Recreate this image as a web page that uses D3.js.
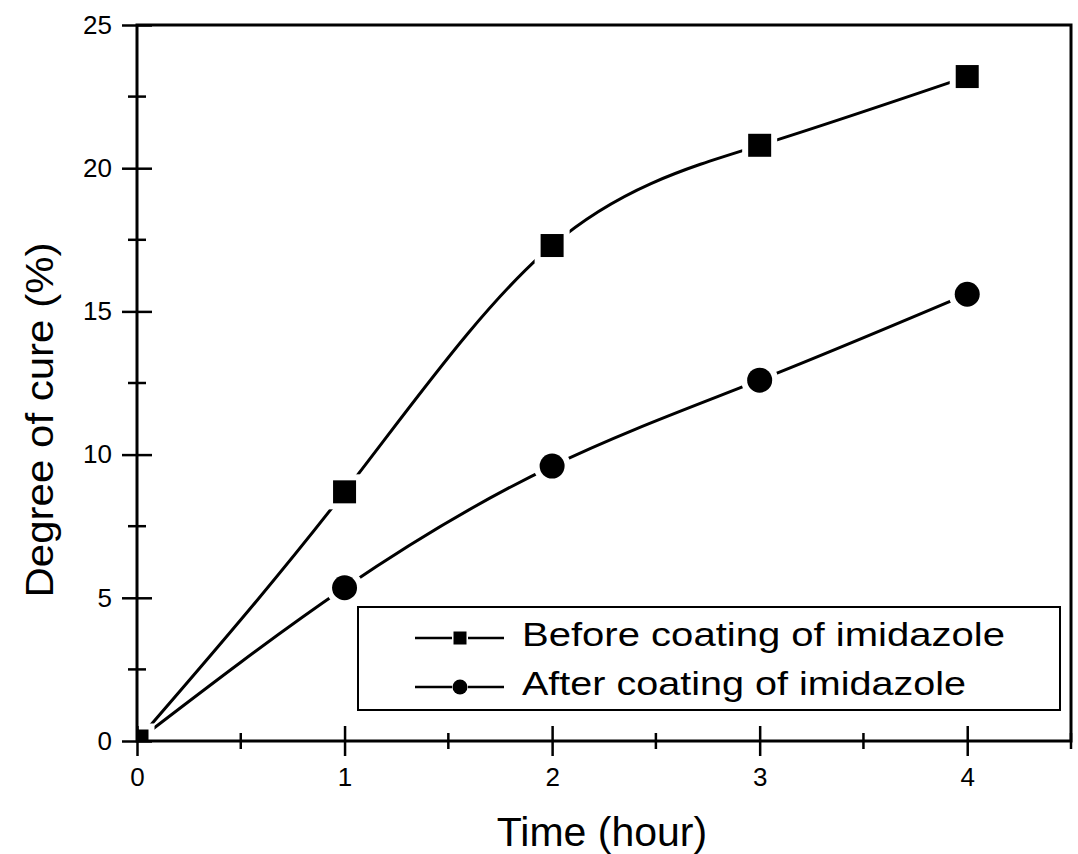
<!DOCTYPE html>
<html>
<head>
<meta charset="utf-8">
<script src="https://cdn.jsdelivr.net/npm/d3@7"></script>
<style>
body { margin: 0; background: #fff; }
text { font-family: "Liberation Sans", Arial, sans-serif; fill: #000; }
</style>
</head>
<body>
<script>
//data
var hours = [0, 1, 2, 3, 4];
var beforeCure = [0, 8.7, 17.3, 20.8, 23.2];
var afterCure = [0, 5.35, 9.6, 12.6, 15.6];
var xTicks = [0, 1, 2, 3, 4];
var xMinorTicks = [0.5, 1.5, 2.5, 3.5, 4.5];
var yTicks = [0, 5, 10, 15, 20, 25];
var yMinorTicks = [2.5, 7.5, 12.5, 17.5, 22.5];
var seriesNames = ["Before coating of imidazole", "After coating of imidazole"];

window.onload = function(){
    var w = 1078, h = 854;
    var svg = d3.select("body")
        .append("svg")
        .attr("width", w)
        .attr("height", h);

    var x = d3.scaleLinear().domain([0, 4.5]).range([137, 1071]);
    var y = d3.scaleLinear().domain([0, 25]).range([741, 25]);

    //clip marks to the plot frame
    svg.append("clipPath").attr("id", "plotClip")
        .append("rect")
        .attr("x", x(0)).attr("y", y(25))
        .attr("width", x(4.5) - x(0)).attr("height", y(0) - y(25));

    var plot = svg.append("g").attr("clip-path", "url(#plotClip)");

    var line = d3.line()
        .x(function(d){ return x(d[0]); })
        .y(function(d){ return y(d[1]); })
        .curve(d3.curveNatural);

    var before = hours.map(function(t, i){ return [t, beforeCure[i]]; });
    var after = hours.map(function(t, i){ return [t, afterCure[i]]; });

    //lines first, markers with white halo to leave gaps
    [before, after].forEach(function(s){
        plot.append("path")
            .datum(s)
            .attr("d", line)
            .attr("fill", "none")
            .attr("stroke", "#000")
            .attr("stroke-width", 3);
    });

    plot.selectAll(".circ")
        .data(after)
        .enter()
        .append("circle")
        .attr("class", "circ")
        .attr("cx", function(d){ return x(d[0]); })
        .attr("cy", function(d){ return y(d[1]); })
        .attr("r", 12.5)
        .attr("fill", "#000")
        .attr("stroke", "#fff")
        .attr("stroke-width", 12)
        .attr("paint-order", "stroke");

    plot.selectAll(".sq")
        .data(before)
        .enter()
        .append("rect")
        .attr("class", "sq")
        .attr("x", function(d){ return x(d[0]) - 11.5; })
        .attr("y", function(d){ return y(d[1]) - 11.5; })
        .attr("width", 23)
        .attr("height", 23)
        .attr("fill", "#000")
        .attr("stroke", "#fff")
        .attr("stroke-width", 12)
        .attr("paint-order", "stroke");

    //frame
    svg.append("rect")
        .attr("x", x(0)).attr("y", y(25))
        .attr("width", x(4.5) - x(0)).attr("height", y(0) - y(25))
        .attr("fill", "none")
        .attr("stroke", "#000")
        .attr("stroke-width", 3);

    //x axis, ticks crossing the line
    var xAxis = d3.axisBottom(x)
        .tickValues(xTicks)
        .tickSize(15)
        .tickPadding(12)
        .tickFormat(d3.format("d"));
    var gx = svg.append("g")
        .attr("transform", "translate(0," + y(0) + ")")
        .call(xAxis);
    gx.select(".domain").remove();
    gx.selectAll(".tick line").attr("y1", -15).attr("stroke-width", 2.5);
    gx.selectAll(".tick text").style("font-size", "26px").style("font-family", "Liberation Sans, Arial, sans-serif");
    gx.selectAll(".minor")
        .data(xMinorTicks)
        .enter()
        .append("line")
        .attr("class", "minor")
        .attr("x1", function(d){ return x(d); })
        .attr("x2", function(d){ return x(d); })
        .attr("y1", -8).attr("y2", 8)
        .attr("stroke", "#000")
        .attr("stroke-width", 2.5);

    //y axis
    var yAxis = d3.axisLeft(y)
        .tickValues(yTicks)
        .tickSize(15)
        .tickPadding(10)
        .tickFormat(d3.format("d"));
    var gy = svg.append("g")
        .attr("transform", "translate(" + x(0) + ",0)")
        .call(yAxis);
    gy.select(".domain").remove();
    gy.selectAll(".tick line").attr("x1", 15).attr("stroke-width", 2.5);
    gy.selectAll(".tick text").style("font-size", "26px").style("font-family", "Liberation Sans, Arial, sans-serif");
    gy.selectAll(".minor")
        .data(yMinorTicks)
        .enter()
        .append("line")
        .attr("class", "minor")
        .attr("y1", function(d){ return y(d); })
        .attr("y2", function(d){ return y(d); })
        .attr("x1", -9).attr("x2", 9)
        .attr("stroke", "#000")
        .attr("stroke-width", 2.5);

    //axis titles
    svg.append("text")
        .attr("x", 602)
        .attr("y", 846)
        .attr("text-anchor", "middle")
        .style("font-size", "41px")
        .text("Time (hour)");

    svg.append("text")
        .attr("transform", "translate(53,420) rotate(-90)")
        .attr("text-anchor", "middle")
        .attr("textLength", 355)
        .attr("lengthAdjust", "spacingAndGlyphs")
        .style("font-size", "38px")
        .text("Degree of cure (%)");

    //legend
    var legend = svg.append("g");
    legend.append("rect")
        .attr("x", 358).attr("y", 607)
        .attr("width", 702).attr("height", 103)
        .attr("fill", "#fff")
        .attr("stroke", "#000")
        .attr("stroke-width", 2);

    var rows = legend.selectAll(".row")
        .data(seriesNames)
        .enter()
        .append("g")
        .attr("class", "row")
        .attr("transform", function(d, i){ return "translate(0," + (638 + i * 49) + ")"; });

    rows.append("line")
        .attr("x1", 415).attr("x2", 452)
        .attr("stroke", "#000").attr("stroke-width", 2.5);
    rows.append("line")
        .attr("x1", 468).attr("x2", 504)
        .attr("stroke", "#000").attr("stroke-width", 2.5);
    rows.filter(function(d, i){ return i === 0; })
        .append("rect")
        .attr("x", 453.5).attr("y", -6.5)
        .attr("width", 13).attr("height", 13)
        .attr("fill", "#000");
    rows.filter(function(d, i){ return i === 1; })
        .append("circle")
        .attr("cx", 460).attr("cy", 0)
        .attr("r", 7.5)
        .attr("fill", "#000");
    rows.append("text")
        .attr("x", 522)
        .attr("y", 8)
        .attr("textLength", function(d, i){ return i === 0 ? 483 : 444; })
        .attr("lengthAdjust", "spacingAndGlyphs")
        .style("font-size", "34px")
        .text(function(d){ return d; });
};
</script>
</body>
</html>
